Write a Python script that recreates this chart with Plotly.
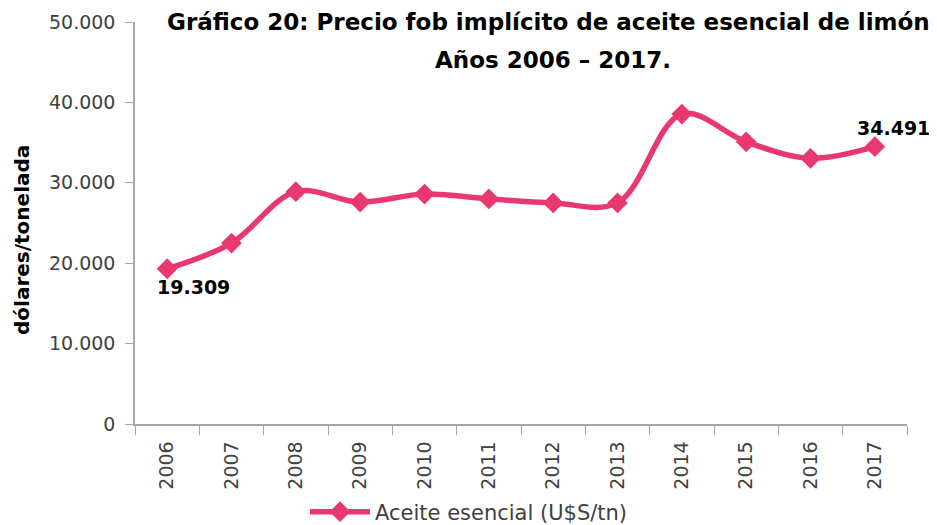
import plotly.graph_objects as go

years = ["2006", "2007", "2008", "2009", "2010", "2011",
         "2012", "2013", "2014", "2015", "2016", "2017"]
precio = [19309, 22500, 28900, 27600, 28600, 28000,
          27500, 27500, 38550, 35100, 33050, 34491]
series_name = "Aceite esencial (U$S/tn)"
title_line1 = "Gráfico 20: Precio fob implícito de aceite esencial de limón"
title_line2 = "Años 2006 – 2017."
y_title = "dólares/tonelada"
label_first = "19.309"
label_last = "34.491"

pink = "#E9386F"
axis_grey = "#A6A6A6"
tick_col = "#404040"

# page body has an 8px margin: the figure is offset by 8px, so it is sized to the visible area
W, H = 929, 517
L, T, R, B = 127, 14, 30, 101
plot_w = W - L - R
plot_h = H - T - B


def px_x(p):
    return (p - 8 - L) / plot_w


def px_y(p):
    return (H - B - (p - 8)) / plot_h


fig = go.Figure()
fig.add_trace(go.Scatter(
    x=years, y=precio, name=series_name,
    mode="lines+markers",
    line=dict(color=pink, width=5.5, shape="spline", smoothing=1.0),
    marker=dict(symbol="diamond", size=16, color=pink),
    showlegend=True,
))

fig.update_layout(
    width=W, height=H,
    margin=dict(l=L, r=R, t=T, b=B, autoexpand=False),
    paper_bgcolor="white", plot_bgcolor="white",
    separators=",.",
    showlegend=True,
    legend=dict(
        orientation="h", x=px_x(305), xanchor="left",
        y=px_y(512), yanchor="middle",
        font=dict(family="DejaVu Sans", size=21, color=tick_col),
        bgcolor="rgba(0,0,0,0)", itemwidth=60,
    ),
    xaxis=dict(
        type="category", tickson="boundaries", automargin=False,
        showline=True, linecolor=axis_grey, linewidth=1.5,
        ticks="outside", ticklen=9, tickcolor=axis_grey, tickwidth=1,
        tickangle=-90, showgrid=False, zeroline=False, ticklabelstandoff=8,
        tickfont=dict(family="DejaVu Sans", size=19, color=tick_col),
        range=[-0.5, 11.5],
    ),
    xaxis2=dict(
        overlaying="x", range=[-0.5, 11.5], tick0=-0.5, dtick=1,
        ticks="inside", ticklen=8, tickcolor=axis_grey, tickwidth=1,
        showticklabels=False, showgrid=False, zeroline=False, showline=False,
        side="bottom", anchor="y",
    ),
    yaxis=dict(
        range=[0, 50000], dtick=10000, tickformat=",d", automargin=False,
        showline=True, linecolor=axis_grey, linewidth=1.5,
        ticks="outside", ticklen=8, tickcolor=axis_grey, tickwidth=1,
        showgrid=False, zeroline=False, ticklabelstandoff=6,
        tickfont=dict(family="DejaVu Sans", size=19, color=tick_col),
    ),
    yaxis2=dict(
        overlaying="y", range=[0, 50000], dtick=10000,
        ticks="inside", ticklen=8, tickcolor=axis_grey, tickwidth=1,
        showticklabels=False, showgrid=False, zeroline=False, showline=False,
        side="left", anchor="x",
    ),
)

fig.add_annotation(text="<b>%s</b>" % title_line1, xref="paper", yref="paper",
                   x=px_x(548), y=px_y(22), xanchor="center", yanchor="middle", showarrow=False,
                   font=dict(family="DejaVu Sans", size=23, color="black"))
fig.add_annotation(text="<b>%s</b>" % title_line2, xref="paper", yref="paper",
                   x=px_x(553), y=px_y(60), xanchor="center", yanchor="middle", showarrow=False,
                   font=dict(family="DejaVu Sans", size=23, color="black"))
fig.add_annotation(text="<b>%s</b>" % y_title, xref="paper", yref="paper",
                   x=px_x(22), y=px_y(240), xanchor="center", yanchor="middle",
                   textangle=-90, showarrow=False,
                   font=dict(family="DejaVu Sans", size=20, color="black"))
fig.add_annotation(text="<b>%s</b>" % label_first, xref="x", yref="y",
                   x=0, y=precio[0],
                   xshift=26, yshift=-18, showarrow=False,
                   font=dict(family="DejaVu Sans", size=19, color="black"))
fig.add_annotation(text="<b>%s</b>" % label_last, xref="x", yref="y",
                   x=len(years) - 1, y=precio[-1],
                   xshift=19, yshift=19, showarrow=False,
                   font=dict(family="DejaVu Sans", size=19, color="black"))

fig.write_html("out.html")
